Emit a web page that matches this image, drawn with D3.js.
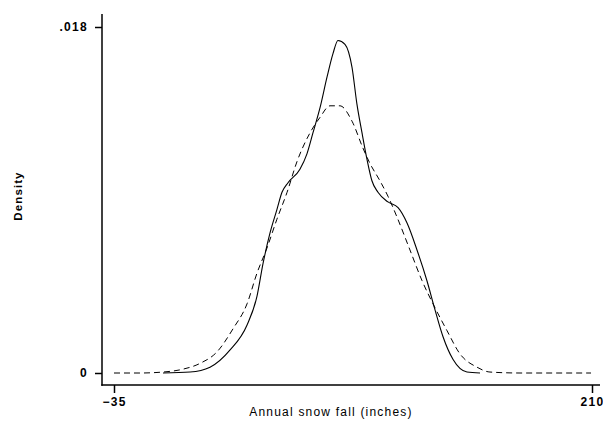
<!DOCTYPE html>
<html>
<head>
<meta charset="utf-8">
<script src="https://cdn.jsdelivr.net/npm/d3@7/dist/d3.min.js"></script>
<style>
  body { margin: 0; background: #fff; }
  svg { display: block; }
</style>
</head>
<body>
<div id="chart"></div>
<script>
// kernel density estimate (solid)
var kdeX = [-9.9, 4.0, 14.2, 24.5, 33.2, 38.3, 41.4, 45.0, 48.5, 51.1, 54.2, 60.3, 63.9, 67.0, 70.6,
  74.2, 77.2, 79.8, 83.4, 87.0, 89.5, 92.1, 94.7, 97.2, 100.3, 105.4, 110.6, 115.2, 120.3,
  125.4, 129.5, 133.6, 138.8, 145.9, 152.6];
var kdeY = [0, 0.00005, 0.0003, 0.0012, 0.0025, 0.0040, 0.0057, 0.0073, 0.0085, 0.0094, 0.0099,
  0.0106, 0.0114, 0.0125, 0.0138, 0.0154, 0.0166, 0.0173, 0.0171, 0.0159, 0.0140, 0.0125,
  0.0111, 0.0100, 0.0094, 0.0089, 0.0086, 0.0078, 0.0064, 0.0048, 0.0033, 0.0019, 0.0007,
  0.00005, 0];

// normal density overlay (dashed)
var normX = [-35, -21.7, -9.9, 0.4, 9.1, 17.8, 26.0, 33.2, 38.3, 43.4, 48.5, 53.7, 58.8, 65.5,
  70.6, 75.7, 80.8, 87.0, 92.6, 96.2, 101.3, 105.4, 110.1, 116.7, 122.9, 128.5, 135.7,
  142.3, 151.1, 157.7, 173.1, 209.5];
var normY = [0, 0, 0.00005, 0.0002, 0.0005, 0.0011, 0.0023, 0.0036, 0.0052, 0.0065, 0.0080,
  0.0094, 0.0110, 0.0125, 0.0133, 0.0139, 0.0139, 0.0131, 0.0117, 0.0109, 0.0100, 0.0092,
  0.0081, 0.0064, 0.0048, 0.0036, 0.0022, 0.0010, 0.0003, 0.00005, 0, 0];

var xTicks = [-35, 210];
var yTicks = [0, 0.018];
var yTickLabels = ['0', '.018'];

var width = 603, height = 422;
var svg = d3.select('#chart').append('svg').attr('width', width).attr('height', height);

var x = d3.scaleLinear().domain([-35, 210]).range([114, 592]);
var y = d3.scaleLinear().domain([0, 0.018]).range([373, 27]);

var axisLeftX = 102, axisBottomY = 385;
var font = '"Liberation Sans", Arial, sans-serif';

// axis lines
svg.append('line').attr('x1', axisLeftX).attr('x2', axisLeftX).attr('y1', 14).attr('y2', axisBottomY + 0.75)
  .attr('stroke', '#000').attr('stroke-width', 1.5);
svg.append('line').attr('x1', axisLeftX - 0.75).attr('x2', 600).attr('y1', axisBottomY).attr('y2', axisBottomY)
  .attr('stroke', '#000').attr('stroke-width', 1.5);

var yAxis = svg.append('g').attr('transform', 'translate(' + axisLeftX + ',0)')
  .call(d3.axisLeft(y).tickValues(yTicks).tickSize(7).tickPadding(7)
    .tickFormat(function (d, i) { return yTickLabels[i]; }));
var xAxis = svg.append('g').attr('transform', 'translate(0,' + axisBottomY + ')')
  .call(d3.axisBottom(x).tickValues(xTicks).tickSize(8).tickPadding(4)
    .tickFormat(d3.format('d')));

[yAxis, xAxis].forEach(function (g) {
  g.select('.domain').remove();
  g.selectAll('line').attr('stroke', '#000').attr('stroke-width', 1.5);
  g.selectAll('text').attr('fill', '#000')
    .style('font-family', font)
    .style('font-size', '12px').style('font-weight', 'bold').style('letter-spacing', '1.3px');
});

var line = d3.line().curve(d3.curveMonotoneX)
  .x(function (d) { return x(d[0]); }).y(function (d) { return y(d[1]); });

svg.append('path').datum(d3.zip(normX, normY)).attr('d', line)
  .attr('fill', 'none').attr('stroke', '#000').attr('stroke-width', 1)
  .attr('stroke-dasharray', '6,4');

svg.append('path').datum(d3.zip(kdeX, kdeY)).attr('d', line)
  .attr('fill', 'none').attr('stroke', '#000').attr('stroke-width', 1.1);

// axis titles
svg.append('text').attr('x', 331).attr('y', 416).attr('text-anchor', 'middle')
  .style('font-family', font).style('font-size', '12px')
  .style('letter-spacing', '1.2px').text('Annual snow fall (inches)');

svg.append('text').attr('transform', 'translate(22,196) rotate(-90)').attr('text-anchor', 'middle')
  .style('font-family', font).style('font-size', '11.5px')
  .style('font-weight', 'bold').style('letter-spacing', '1.1px').text('Density');
</script>
</body>
</html>
